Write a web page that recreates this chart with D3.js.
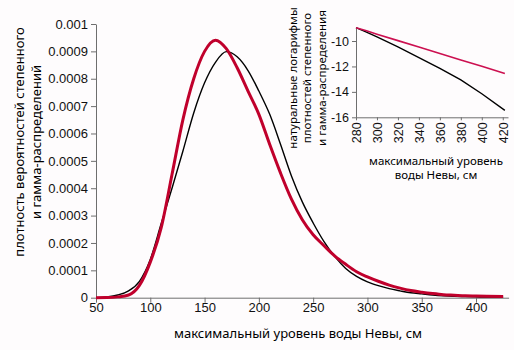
<!DOCTYPE html>
<html>
<head>
<meta charset="utf-8">
<script src="https://cdn.jsdelivr.net/npm/d3@7"></script>
<style>
  body { margin: 0; background: #fefcfd; }
  svg { display: block; font-family: "Noto Sans", "Open Sans", sans-serif; }
  .axis path, .axis line { stroke: #6e6e6e; }
  .axis text { fill: #111; }
</style>
</head>
<body>
<svg id="chart" width="514" height="350"></svg>
<script>

// main chart: density, in units of 1e-4
var levels = [50, 60, 70, 80, 90, 100, 110, 120, 130, 140, 150, 160, 170, 180, 190, 200,
              210, 220, 230, 240, 250, 260, 270, 280, 290, 300, 310, 320, 330, 340, 350,
              360, 370, 380, 390, 400, 410, 425];
var gammaDens = [0, 0.005, 0.03, 0.1, 0.45, 1.3, 2.55, 4.5, 6.5, 8.0, 9.0, 9.41, 9.1, 8.4, 7.55, 6.7,
                 5.6, 4.55, 3.6, 2.85, 2.3, 1.9, 1.52, 1.22, 0.95, 0.76, 0.6, 0.46, 0.35, 0.26, 0.2,
                 0.15, 0.11, 0.09, 0.07, 0.06, 0.05, 0.04];
var powerDens = [0, 0.03, 0.1, 0.25, 0.6, 1.4, 2.7, 4.0, 5.35, 6.75, 7.85, 8.6, 8.99, 8.8, 8.3, 7.55,
                 6.7, 5.6, 4.45, 3.5, 2.73, 2.05, 1.5, 1.07, 0.78, 0.58, 0.44, 0.33, 0.25, 0.18, 0.14,
                 0.1, 0.07, 0.05, 0.04, 0.03, 0.02, 0.02];
var yTicks = [0, 1, 2, 3, 4, 5, 6, 7, 8, 9, 10];
var yTickLabels = ["0", "0.0001", "0.0002", "0.0003", "0.0004", "0.0005", "0.0006",
                   "0.0007", "0.0008", "0.0009", "0.001"];
var xTicks = [50, 100, 150, 200, 250, 300, 350, 400];

// inset: natural logs of the densities
var logLevels = [280, 290, 300, 320, 340, 360, 380, 400, 422];
var gammaLog = [-8.95, -9.2, -9.46, -9.97, -10.47, -10.98, -11.49, -11.99, -12.55];
var powerLog = [-8.95, -9.3, -9.68, -10.47, -11.3, -12.15, -13.05, -14.15, -15.45];
var insetYTicks = [-10, -12, -14, -16];
var insetYLabels = ["-10", "-12", "-14", "-16"];
var insetXTicks = [280, 300, 320, 340, 360, 380, 400, 420];

var red = "#c0002c";
var svg = d3.select("#chart");

// ---- main chart
var x = d3.scaleLinear().domain([50, 430]).range([96, 508.6]);
var y = d3.scaleLinear().domain([0, 10]).range([297.7, 24]);

svg.append("g").attr("class", "axis")
  .attr("transform", "translate(0," + y(0) + ")")
  .call(d3.axisBottom(x).tickValues(xTicks).tickSize(5).tickSizeOuter(0).tickFormat(d3.format("d")))
  .call(g => g.selectAll("text").attr("font-size", 13).attr("y", 5).attr("dy", "0.71em"));

svg.append("g").attr("class", "axis")
  .attr("transform", "translate(" + x(50) + ",0)")
  .call(d3.axisLeft(y).tickValues(yTicks).tickSize(5).tickSizeOuter(0)
        .tickFormat((d, i) => yTickLabels[i]))
  .call(g => g.selectAll("text").attr("font-size", 13));

var line = d3.line().curve(d3.curveMonotoneX)
  .x((d, i) => x(levels[i])).y(d => y(d));

svg.append("path").datum(powerDens)
  .attr("d", line).attr("fill", "none").attr("stroke", "#000").attr("stroke-width", 1.4);
svg.append("path").datum(gammaDens)
  .attr("d", line).attr("fill", "none").attr("stroke", red).attr("stroke-width", 3);

svg.append("text").attr("x", 298).attr("y", 338).attr("text-anchor", "middle")
  .attr("font-size", 13).text("максимальный уровень воды Невы, см");

var ylab = svg.append("text").attr("transform", "translate(19,142) rotate(-90)")
  .attr("text-anchor", "middle").attr("font-size", 13);
ylab.append("tspan").attr("x", 0).attr("dy", "0.35em").text("плотность вероятностей степенного");
ylab.append("tspan").attr("x", 0).attr("dy", "1.35em").text("и гамма-распределений");

// ---- inset
var ix = d3.scaleLinear().domain([280, 425]).range([356, 508]);
var iy = d3.scaleLinear().domain([-16, -9]).range([117.3, 28.3]);

svg.append("g").attr("class", "axis")
  .attr("transform", "translate(0," + iy(-16) + ")")
  .call(d3.axisBottom(ix).tickValues(insetXTicks).tickSize(3).tickSizeOuter(0))
  .call(g => g.selectAll("text").attr("font-size", 12.5)
        .attr("transform", "rotate(-90)").attr("text-anchor", "end")
        .attr("x", -5).attr("y", 0).attr("dy", "0.35em"));

svg.append("g").attr("class", "axis")
  .attr("transform", "translate(" + ix(280) + ",0)")
  .call(d3.axisLeft(iy).tickValues(insetYTicks).tickSize(4).tickSizeOuter(0)
        .tickFormat((d, i) => insetYLabels[i]))
  .call(g => g.selectAll("text").attr("font-size", 12.5));

var iline = d3.line().x((d, i) => ix(logLevels[i])).y(d => iy(d));
svg.append("path").datum(powerLog)
  .attr("d", iline).attr("fill", "none").attr("stroke", "#000").attr("stroke-width", 1.4);
svg.append("path").datum(gammaLog)
  .attr("d", iline).attr("fill", "none").attr("stroke", "#cc1050").attr("stroke-width", 1.6);

svg.append("text").attr("x", 436).attr("y", 165).attr("text-anchor", "middle")
  .attr("font-size", 11.5).text("максимальный уровень");
svg.append("text").attr("x", 436).attr("y", 179).attr("text-anchor", "middle")
  .attr("font-size", 11.5).text("воды Невы, см");

var iylab = svg.append("text").attr("transform", "translate(293,78) rotate(-90)")
  .attr("text-anchor", "middle").attr("font-size", 11.5);
iylab.append("tspan").attr("x", 0).attr("dy", "0.35em").text("натуральные логарифмы");
iylab.append("tspan").attr("x", 0).attr("dy", "1.25em").text("плотностей степенного");
iylab.append("tspan").attr("x", 0).attr("dy", "1.25em").text("и гамма-распределения");

</script>
</body>
</html>
